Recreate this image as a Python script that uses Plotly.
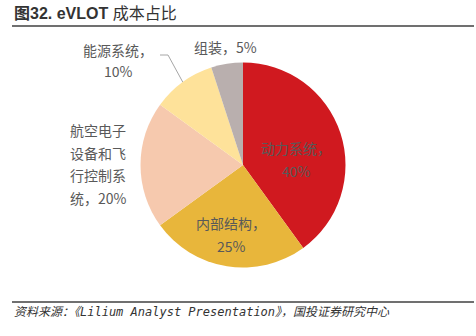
import math
import plotly.graph_objects as go

# Cost breakdown of an eVTOL aircraft (share of total, %)
categories = ["动力系统", "内部结构", "航空电子设备和飞行控制系统", "能源系统", "组装"]
shares = [40, 25, 20, 10, 5]
colors = ["#D0191F", "#E8B63B", "#F6C9AE", "#FEE29A", "#B9AFAE"]

W, H = 476, 336
CX, CY, R = 243, 165, 102.5  # pie centre and radius in pixels

fig = go.Figure(go.Pie(
    labels=categories,
    values=shares,
    marker=dict(colors=colors, line=dict(width=0)),
    sort=False,
    direction="clockwise",
    rotation=0,
    textinfo="none",
    hoverinfo="label+percent",
    showlegend=False,
    domain=dict(x=[(CX - R) / W, (CX + R) / W],
                y=[(H - CY - R) / H, (H - CY + R) / H]),
))

LABEL_FONT = dict(family="Noto Sans CJK SC, Liberation Sans, sans-serif", size=14, color="#595959")


def px(x, y):
    return x / W, 1 - y / H


def label_lines(lines, x, y0, step=22.5):
    for i, t in enumerate(lines):
        xx, yy = px(x, y0 + i * step)
        fig.add_annotation(x=xx, y=yy, xref="paper", yref="paper", text=t,
                           showarrow=False, font=LABEL_FONT,
                           xanchor="center", yanchor="middle")


pct = [f"{v}%" for v in shares]
label_lines([f"{categories[0]}，", pct[0]], 296, 148)
label_lines([f"{categories[1]}，", pct[1]], 231, 223)
avionics = categories[2]
label_lines([avionics[0:4], avionics[4:8], avionics[8:12], f"{avionics[12:]}，{pct[2]}"], 98, 130)
label_lines([f"{categories[3]}，", pct[3]], 118, 50, step=21)
label_lines([f"{categories[4]}，{pct[4]}"], 225, 47)

# leader line for the energy-system slice, ending on its mid-angle at the rim
start = sum(shares[:3]) / sum(shares) * 360
mid = math.radians(start + shares[3] / sum(shares) * 360 / 2)
ex, ey = CX + R * math.sin(mid), CY - R * math.cos(mid)
p0, p1, p2 = px(160, 55), px(168, 55), px(ex, ey)
fig.add_shape(type="path", xref="paper", yref="paper",
              path=f"M {p0[0]} {p0[1]} L {p1[0]} {p1[1]} L {p2[0]} {p2[1]}",
              line=dict(color="#A6A6A6", width=1))

# title and rules
tx, ty = px(12, 14)
fig.add_annotation(x=tx, y=ty, xref="paper", yref="paper",
                   text="<b>图32. eVLOT</b> 成本占比", showarrow=False,
                   font=dict(family="Liberation Sans, Noto Sans CJK SC, sans-serif", size=16, color="#333333"),
                   xanchor="left", yanchor="middle")
for yline, wline in [(26, 1.6), (302, 1.6)]:
    a, b = px(12, yline), px(474, yline)
    fig.add_shape(type="line", xref="paper", yref="paper", x0=a[0], y0=a[1], x1=b[0], y1=b[1],
                  line=dict(color="#404040", width=wline))

sx, sy = px(12, 312)
fig.add_annotation(x=sx, y=sy, xref="paper", yref="paper",
                   text="资料来源：《Lilium Analyst Presentation》，国投证券研究中心",
                   showarrow=False,
                   font=dict(family="DejaVu Sans Mono, Noto Sans CJK SC, monospace", size=12,
                             color="#333333", style="italic"),
                   xanchor="left", yanchor="middle")

fig.update_layout(width=W, height=H, margin=dict(l=0, r=0, t=0, b=0),
                  paper_bgcolor="white", plot_bgcolor="white")

fig.write_html("out.html")
